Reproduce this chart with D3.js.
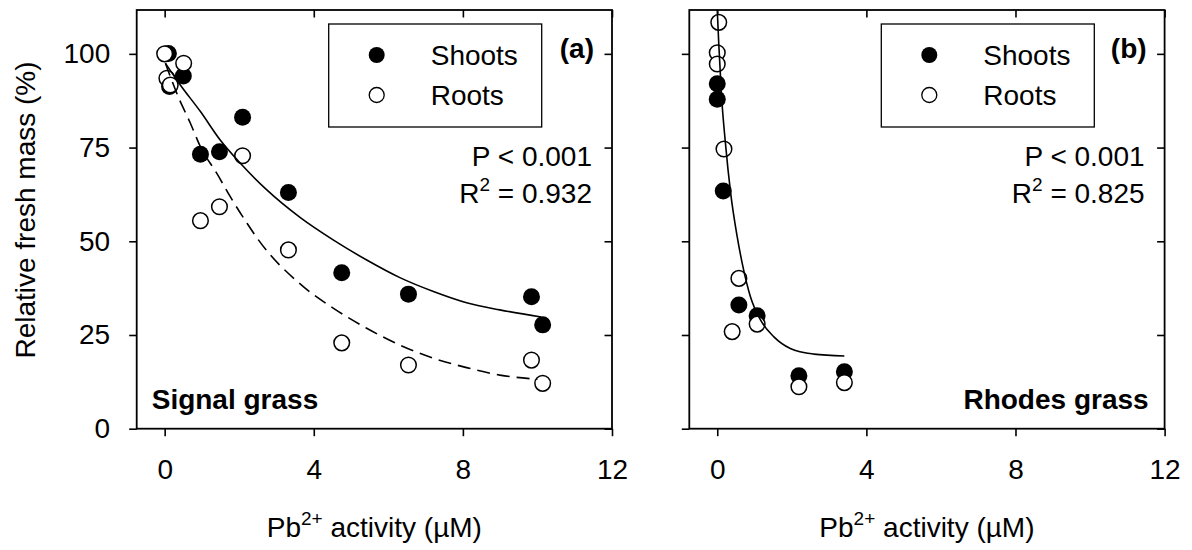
<!DOCTYPE html>
<html>
<head>
<meta charset="utf-8">
<script src="https://cdn.jsdelivr.net/npm/d3@7"></script>
<style>
  body { margin: 0; background: #fff; }
  svg text { font-family: "Liberation Sans", Arial, sans-serif; fill: #000; }
</style>
</head>
<body>
<div id="chart"></div>
<script>
// ---- data ----
// panel (a) Signal grass
var shootsAx = [0.1, 0.13, 0.5, 0.96, 1.47, 2.09, 3.32, 4.75, 6.54, 9.84, 10.14];
var shootsAy = [100.1, 91.3, 94.1, 73.2, 73.9, 83.1, 63.0, 41.6, 35.9, 35.2, 27.7];
var rootsAx = [0, 0.06, 0.15, 0.51, 0.96, 1.47, 2.09, 3.32, 4.75, 6.54, 9.84, 10.14];
var rootsAy = [100, 93.5, 91.7, 97.5, 55.5, 59.2, 72.8, 47.7, 22.9, 17.0, 18.3, 12.1];
// fitted curves
var fitShootAx = [0.02, 0.42, 0.96, 1.49, 2.03, 2.74, 3.64, 4.53, 5.42, 6.31, 7.21, 8.10, 8.99, 10.1];
var fitShootAy = [97.5, 91.7, 84.6, 77.0, 70.8, 63.7, 56.3, 50.3, 45.0, 40.3, 36.6, 33.6, 31.7, 29.8];
var fitRootAx = [0.02, 0.38, 0.69, 0.96, 1.40, 1.76, 2.21, 2.52, 3.72, 4.53, 5.42, 6.31, 7.21, 8.10, 8.99, 10.0];
var fitRootAy = [97.5, 88.2, 81.5, 75.2, 68.1, 61.9, 54.8, 50.3, 37.9, 32.1, 26.8, 22.3, 18.8, 16.3, 14.3, 13.2];

// panel (b) Rhodes grass
var shootsBx = [0, 0, 0.16, 0.58, 1.07, 2.19, 3.41];
var shootsBy = [92.0, 87.9, 63.4, 33.0, 30.1, 14.1, 15.2];
var rootsBx = [0.04, 0, 0, 0.18, 0.58, 0.40, 1.07, 2.19, 3.41];
var rootsBy = [108.4, 100.3, 97.3, 74.6, 40.1, 25.9, 27.9, 11.2, 12.3];
var fitBx = [0, 0.04, 0.11, 0.22, 0.36, 0.53, 0.67, 0.89, 1.16, 1.52, 1.96, 2.59, 3.41];
var fitBy = [111.7, 102.8, 89.5, 76.1, 62.8, 51.5, 44.1, 35.2, 29.0, 24.5, 21.4, 19.9, 19.4];

var xTicks = [0, 4, 8, 12];
var yTicks = [0, 25, 50, 75, 100];

function zip(xs, ys){ return xs.map(function(x, i){ return [x, ys[i]]; }); }

function init(){
    var w = 1192, h = 550;
    var svg = d3.select("#chart").append("svg")
                .attr("width", w)
                .attr("height", h);

    // plot box size (both panels the same)
    var pw = 475.3, ph = 418.7;
    var xScale = d3.scaleLinear().domain([-0.75, 12]).range([0, pw]);
    var yScale = d3.scaleLinear().domain([0, 111.7]).range([ph, 0]);
    var tl = 7.5; // tick length
    var fs = 28;

    var panels = [
        {left: 136.7, tag: "(a)", name: "Signal grass", nameAnchor: "start", r2: "0.932", yLabels: true,
         shoots: zip(shootsAx, shootsAy), roots: zip(rootsAx, rootsAy),
         fits: [{pts: zip(fitShootAx, fitShootAy), dash: null}, {pts: zip(fitRootAx, fitRootAy), dash: "13,7"}]},
        {left: 689.3, tag: "(b)", name: "Rhodes grass", nameAnchor: "end", r2: "0.825", yLabels: false,
         shoots: zip(shootsBx, shootsBy), roots: zip(rootsBx, rootsBy),
         fits: [{pts: zip(fitBx, fitBy), dash: null}]}
    ];

    var line = d3.line()
                .x(function(d){ return xScale(d[0]); })
                .y(function(d){ return yScale(d[1]); })
                .curve(d3.curveMonotoneX);

    panels.forEach(function(p){
        var g = svg.append("g").attr("transform", "translate(" + p.left + ",10)");

        // axes: bottom/left ticks point out, top/right ticks point in
        var bottom = g.append("g").attr("transform", "translate(0," + ph + ")")
            .call(d3.axisBottom(xScale).tickValues(xTicks).tickSizeInner(tl).tickSizeOuter(0).tickPadding(23));
        var top = g.append("g")
            .call(d3.axisTop(xScale).tickValues(xTicks).tickSizeInner(-tl).tickSizeOuter(0).tickFormat(""));
        var left = g.append("g")
            .call(d3.axisLeft(yScale).tickValues(yTicks).tickSizeInner(tl).tickSizeOuter(0).tickPadding(19)
                  .tickFormat(p.yLabels ? d3.format("d") : ""));
        var right = g.append("g").attr("transform", "translate(" + pw + ",0)")
            .call(d3.axisRight(yScale).tickValues(yTicks).tickSizeInner(-tl).tickSizeOuter(0).tickFormat(""));
        [bottom, top, left, right].forEach(function(a){
            a.select(".domain").remove();
            a.selectAll("line").attr("stroke", "#000").attr("stroke-width", 1.6);
            a.selectAll("text").style("font-size", fs + "px").attr("fill", "#000")
                .style("font-family", "'Liberation Sans', Arial, sans-serif");
        });

        // frame
        g.append("rect").attr("x", 0).attr("y", 0).attr("width", pw).attr("height", ph)
            .attr("fill", "none").attr("stroke", "#000").attr("stroke-width", 1.8);

        // points: shoots first, roots on top
        g.selectAll(".shoot").data(p.shoots).enter().append("circle")
            .attr("class", "shoot")
            .attr("cx", function(d){ return xScale(d[0]); })
            .attr("cy", function(d){ return yScale(d[1]); })
            .attr("r", 8.5)
            .attr("fill", "#000");
        g.selectAll(".root").data(p.roots).enter().append("circle")
            .attr("class", "root")
            .attr("cx", function(d){ return xScale(d[0]); })
            .attr("cy", function(d){ return yScale(d[1]); })
            .attr("r", 7.8)
            .attr("fill", "#fff")
            .attr("stroke", "#000")
            .attr("stroke-width", 1.5);

        // fitted lines
        p.fits.forEach(function(f){
            g.append("path").attr("d", line(f.pts))
                .attr("fill", "none").attr("stroke", "#000").attr("stroke-width", 1.6)
                .attr("stroke-dasharray", f.dash);
        });

        // legend box
        var lg = g.append("g").attr("transform", "translate(192,14)");
        lg.append("rect").attr("width", 213).attr("height", 103)
            .attr("fill", "#fff").attr("stroke", "#000").attr("stroke-width", 1.3);
        lg.append("circle").attr("cx", 48).attr("cy", 31).attr("r", 8).attr("fill", "#000");
        lg.append("circle").attr("cx", 48).attr("cy", 71).attr("r", 7.5)
            .attr("fill", "#fff").attr("stroke", "#000").attr("stroke-width", 1.3);
        lg.append("text").attr("x", 102).attr("y", 41).style("font-size", fs + "px").text("Shoots");
        lg.append("text").attr("x", 102).attr("y", 81).style("font-size", fs + "px").text("Roots");

        // panel tag
        g.append("text").attr("x", pw - 18).attr("y", 48).attr("text-anchor", "end")
            .style("font-size", fs + "px").style("font-weight", "bold").text(p.tag);

        // stats
        g.append("text").attr("x", pw - 20).attr("y", 156).attr("text-anchor", "end")
            .style("font-size", fs + "px").text("P < 0.001");
        var r2 = g.append("text").attr("x", pw - 20).attr("y", 193).attr("text-anchor", "end")
            .style("font-size", fs + "px");
        r2.append("tspan").text("R");
        r2.append("tspan").attr("dy", -12).style("font-size", "19px").text("2");
        r2.append("tspan").attr("dy", 12).text(" = " + p.r2);

        // species name
        g.append("text")
            .attr("x", p.nameAnchor == "start" ? 15 : pw - 16)
            .attr("y", 399)
            .attr("text-anchor", p.nameAnchor)
            .style("font-size", fs + "px").style("font-weight", "bold").text(p.name);

        // x axis title
        var xt = g.append("text").attr("x", pw / 2).attr("y", 527).attr("text-anchor", "middle")
            .style("font-size", fs + "px");
        xt.append("tspan").text("Pb");
        xt.append("tspan").attr("dy", -12).style("font-size", "19px").text("2+");
        xt.append("tspan").attr("dy", 12).text(" activity (\u00b5M)");
    });

    // y axis title
    svg.append("text")
        .attr("transform", "translate(35,210) rotate(-90)")
        .attr("text-anchor", "middle")
        .style("font-size", fs + "px")
        .text("Relative fresh mass (%)");
}
window.onload = init;
</script>
</body>
</html>
